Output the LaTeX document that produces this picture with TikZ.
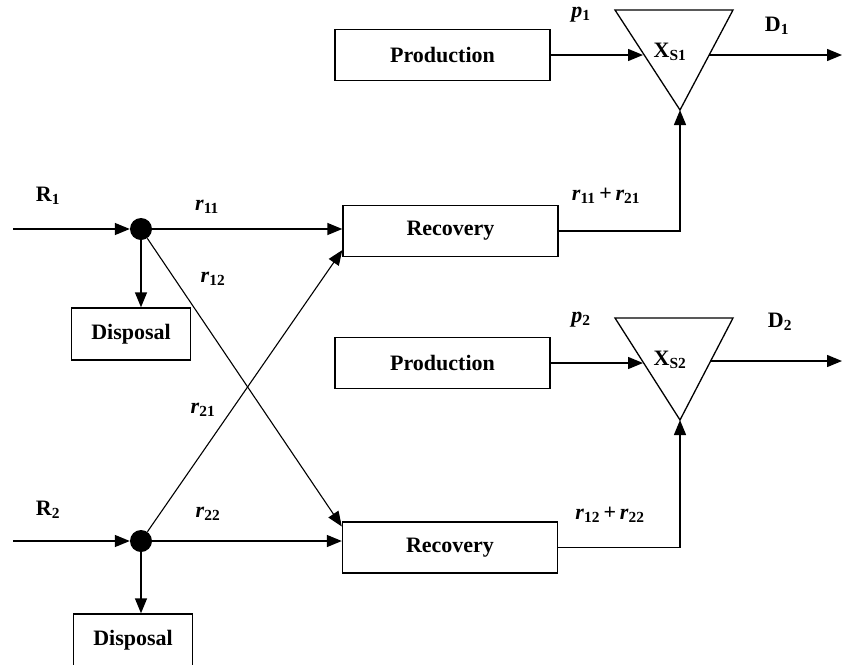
\documentclass[tikz,border=0pt]{standalone}
\usepackage{fontspec}
\setmainfont{Liberation Serif}
\usetikzlibrary{arrows.meta}
\newcommand{\flowvar}[2]{\textit{#1}\textsubscript{\upshape #2}}
\begin{document}
\begin{tikzpicture}[x=1pt,y=-1pt,
  txt/.style={font=\bfseries\fontsize{22}{26}\selectfont, inner sep=0pt},
  box/.style={txt, draw, line width=1.4pt, minimum width=215pt, minimum height=51pt},
  dispbox/.style={txt, draw, line width=1.4pt, minimum width=119pt, minimum height=52pt},
  junction/.style={circle, fill, minimum size=22pt, inner sep=0pt},
  flow/.style={line width=1.4pt, -{Triangle[length=15pt,width=12pt]}},
  crossflow/.style={line width=1.1pt, -{Triangle[length=15pt,width=12pt]}},
  tri/.style={line width=1.3pt, line join=miter},
  lbl/.style={txt}]
\useasboundingbox (0,0) rectangle (842,664);

% process boxes
\node[box] (prod1) at (442.5,55) {Production};
\node[box] (rec1) at (450.5,231) {Recovery};
\node[box] (prod2) at (442.5,363) {Production};
\node[box] (rec2) at (450,547.5) {Recovery};
\node[dispbox] (disp1) at (131,334) {Disposal};
\node[dispbox] (disp2) at (133,640) {Disposal};

% collection points
\node[junction] (j1) at (141,229) {};
\node[junction] (j2) at (141,541) {};
\coordinate (r1src) at (13,229);
\coordinate (r2src) at (13,541);

% stock triangles
\coordinate (s1a) at (615,10);
\coordinate (s1b) at (733,10);
\coordinate (s1c) at (680,110);
\coordinate (s1in) at (643,55);
\coordinate (s1out) at (709,55);
\coordinate (d1end) at (842,55);
\draw[tri] (s1a) -- (s1b) -- (s1c) -- cycle;

\coordinate (s2a) at (615,318);
\coordinate (s2b) at (733,318);
\coordinate (s2c) at (680,420);
\coordinate (s2in) at (643,363);
\coordinate (s2out) at (710,361);
\coordinate (d2end) at (842,361);
\draw[tri] (s2a) -- (s2b) -- (s2c) -- cycle;

% flows
\draw[flow] (r1src) -- (j1);
\draw[flow] (r2src) -- (j2);
\draw[flow] (j1) -- (j1 |- disp1.north);
\draw[flow] (j2) -- (j2 |- disp2.north);
\draw[flow] (j1) -- (j1 -| rec1.west);
\draw[flow] (j2) -- (j2 -| rec2.west);
\draw[crossflow] (j1) -- (rec2.169);
\draw[crossflow] (j2) -- (rec1.190);
\draw[flow] (rec1.east) -| (s1c);
\draw[flow] (rec2.east) -| (s2c);
\draw[flow] (prod1.east) -- (s1in);
\draw[flow] (prod2.east) -- (s2in);
\draw[flow] (s1out) -- (d1end);
\draw[flow] (s2out) -- (d2end);

% labels
\node[lbl] (labR1) at (48,196) {R\textsubscript{1}};
\node[lbl] (labR2) at (48,510) {R\textsubscript{2}};
\node[lbl] (lab11) at (207,207) {\flowvar{r}{11}};
\node[lbl] (lab12) at (213,279) {\flowvar{r}{12}};
\node[lbl] (lab21) at (203,410) {\flowvar{r}{21}};
\node[lbl] (lab22) at (208,514) {\flowvar{r}{22}};
\node[lbl] (labsum1) at (606,196) {\flowvar{r}{11}\,+\,\flowvar{r}{21}};
\node[lbl] (labsum2) at (610,515) {\flowvar{r}{12}\,+\,\flowvar{r}{22}};
\node[lbl] (labp1) at (581,15) {\flowvar{p}{1}};
\node[lbl] (labp2) at (581,320) {\flowvar{p}{2}};
\node[lbl] (labD1) at (777,26) {D\textsubscript{1}};
\node[lbl] (labD2) at (780,322) {D\textsubscript{2}};
\node[lbl] (labX1) at (670,52) {X\textsubscript{S1}};
\node[lbl] (labX2) at (670,360) {X\textsubscript{S2}};
\end{tikzpicture}
\end{document}
